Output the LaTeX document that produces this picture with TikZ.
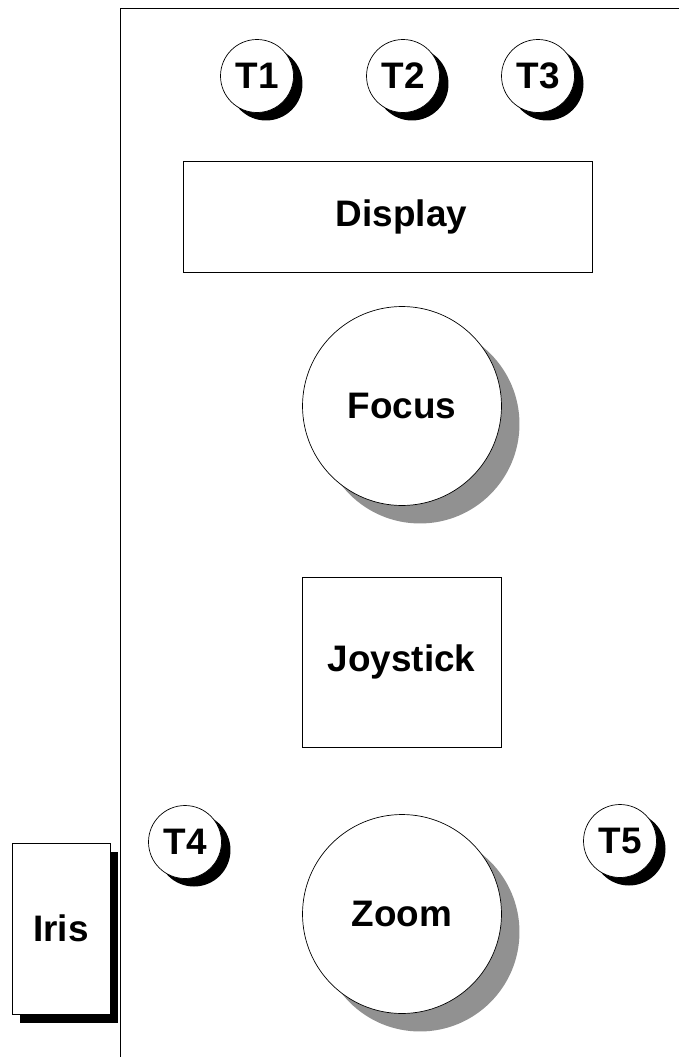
\documentclass[tikz,border=0pt]{standalone}
\usepackage{fontspec}
\setmainfont{Liberation Sans}
\usetikzlibrary{shadows}
\definecolor{knobshadow}{RGB}{145,145,145}

\begin{document}
\begin{tikzpicture}[x=0.02cm, y=-0.02cm,
  every node/.style={font=\fontsize{21}{24}\selectfont\bfseries},
  tbutton/.style={circle, draw, fill=white, thin, inner sep=0pt, minimum size=1.46cm,
    drop shadow={shadow xshift=0.18cm, shadow yshift=-0.16cm, fill=black, opacity=1}},
  knob/.style={circle, draw, fill=white, thin, inner sep=0pt, minimum size=3.98cm,
    drop shadow={shadow xshift=0.36cm, shadow yshift=-0.36cm, fill=knobshadow, opacity=1}},
  panel/.style={rectangle, draw, fill=white, thin, inner sep=0pt}]
\useasboundingbox (0,0) rectangle (679,1057);
% panel frame
\draw[thin] (679,8) -- (120,8) -- (120,1057);
% top buttons
\node[tbutton] (t1) at (257,76) {T1};
\node[tbutton] (t2) at (403,76) {T2};
\node[tbutton] (t3) at (538,76) {T3};
% display
\node[panel, minimum width=8.18cm, minimum height=2.22cm] (display) at (387.5,216.5) {\hspace*{0.56cm}Display};
% focus knob
\node[knob] (focus) at (402,406) {Focus};
% joystick
\node[panel, minimum width=3.98cm, minimum height=3.4cm] (joystick) at (401.5,662) {Joystick};
% lower buttons
\node[tbutton] (t4) at (185,842) {T4};
\node[tbutton] (t5) at (620,841) {T5};
% zoom knob
\node[knob] (zoom) at (402,914) {Zoom};
% iris
\node[panel, minimum width=1.96cm, minimum height=3.42cm,
  drop shadow={shadow xshift=0.16cm, shadow yshift=-0.18cm, fill=black, opacity=1}] (iris) at (61,928.5) {Iris};
\end{tikzpicture}
\end{document}
